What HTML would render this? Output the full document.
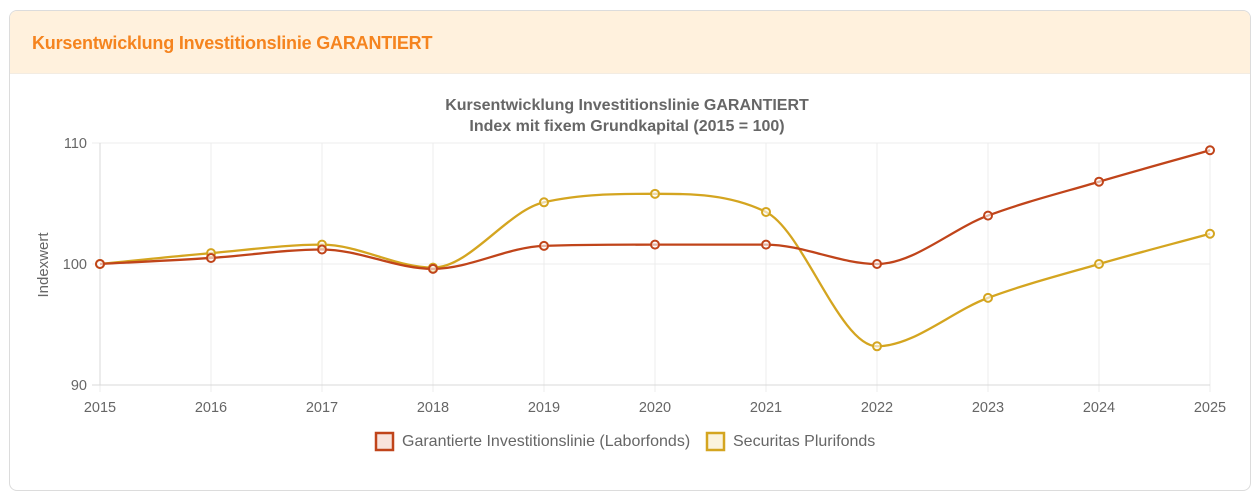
<!DOCTYPE html>
<html><head><meta charset="utf-8"><style>
body{margin:0;background:#fff;width:1253px;height:495px;overflow:hidden;font-family:"Liberation Sans",Arial,sans-serif}
.card{position:absolute;left:9px;top:10px;width:1240px;height:479px;border:1px solid #dcdcdc;border-radius:8px;overflow:hidden;background:#fff}
.hd{height:62px;background:#fff1dd;border-bottom:1px solid #f3ece2}
.hd span{position:absolute;left:22px;top:22px;font-size:18px;font-weight:bold;color:#f5841f;letter-spacing:-0.2px}
svg{position:absolute;left:0;top:0}
</style></head><body>
<div class="card"><div class="hd"><span>Kursentwicklung Investitionslinie GARANTIERT</span></div></div>
<svg width="1253" height="495" id="s" font-family="Liberation Sans, Arial, sans-serif">
<text x="627" y="110" text-anchor="middle" font-size="16" font-weight="bold" fill="#666">Kursentwicklung Investitionslinie GARANTIERT</text>
<text x="627" y="131" text-anchor="middle" font-size="16" font-weight="bold" fill="#666">Index mit fixem Grundkapital (2015 = 100)</text>
<text transform="translate(48,265) rotate(-90)" text-anchor="middle" font-size="15" fill="#666">Indexwert</text>
<g id="g"></g>
<rect x="376" y="433" width="17" height="17" fill="#f8e3dc" stroke="#c0441a" stroke-width="2.5"/>
<text x="402" y="446" font-size="16" fill="#666">Garantierte Investitionslinie (Laborfonds)</text>
<rect x="707" y="433" width="17" height="17" fill="#fbf3dd" stroke="#d4a520" stroke-width="2.5"/>
<text x="733" y="446" font-size="16" fill="#666">Securitas Plurifonds</text>
</svg>
<script>
var g=document.getElementById('g'),h='';
var X=function(i){return 100+111*i},Y=function(v){return 264-(v-100)*12.1};
for(var i=0;i<11;i++){h+='<line x1="'+X(i)+'" y1="143" x2="'+X(i)+'" y2="392" stroke="#ececec"/>';
h+='<text x="'+X(i)+'" y="412" text-anchor="middle" font-size="14.5" fill="#666">'+(2015+i)+'</text>';}
[110,100,90].forEach(function(v){h+='<line x1="92" y1="'+Y(v)+'" x2="1210" y2="'+Y(v)+'" stroke="'+(v==90?'#d8d8d8':'#ececec')+'"/>';
h+='<text x="87" y="'+(Y(v)+5)+'" text-anchor="end" font-size="14.5" fill="#666">'+v+'</text>';});
h+='<line x1="100" y1="143" x2="100" y2="385" stroke="#d8d8d8"/>';
function path(d,c){var p=d.map(function(v,i){return[X(i),Y(v)]}),n=p.length,dl=[],m=[];
for(var i=0;i<n-1;i++)dl.push((p[i+1][1]-p[i][1])/(p[i+1][0]-p[i][0]));
for(i=0;i<n;i++){if(i==0)m.push(dl[0]);else if(i==n-1)m.push(dl[n-2]);else m.push(dl[i-1]*dl[i]<=0?0:(dl[i-1]+dl[i])/2);}
for(i=0;i<n-1;i++){if(dl[i]==0){m[i]=m[i+1]=0;continue;}var a=m[i]/dl[i],b=m[i+1]/dl[i],q=a*a+b*b;if(q>9){var t=3/Math.sqrt(q);m[i]=t*a*dl[i];m[i+1]=t*b*dl[i];}}
var s='M'+p[0][0]+','+p[0][1];
for(i=0;i<n-1;i++){var dx=(p[i+1][0]-p[i][0])/3;s+=' C'+(p[i][0]+dx)+','+(p[i][1]+m[i]*dx)+' '+(p[i+1][0]-dx)+','+(p[i+1][1]-m[i+1]*dx)+' '+p[i+1][0]+','+p[i+1][1];}
var r='<path d="'+s+'" fill="none" stroke="'+c+'" stroke-width="2.3"/>';
p.forEach(function(q){r+='<circle cx="'+q[0]+'" cy="'+q[1]+'" r="4" fill="#fff" fill-opacity="0.6" stroke="'+c+'" stroke-width="2"/>'});return r;}
h+=path([100,100.9,101.6,99.7,105.1,105.8,104.3,93.2,97.2,100,102.5],'#d4a520');
h+=path([100,100.5,101.2,99.6,101.5,101.6,101.6,100,104,106.8,109.4],'#c0441a');
g.innerHTML=h;
</script>
</body></html>
